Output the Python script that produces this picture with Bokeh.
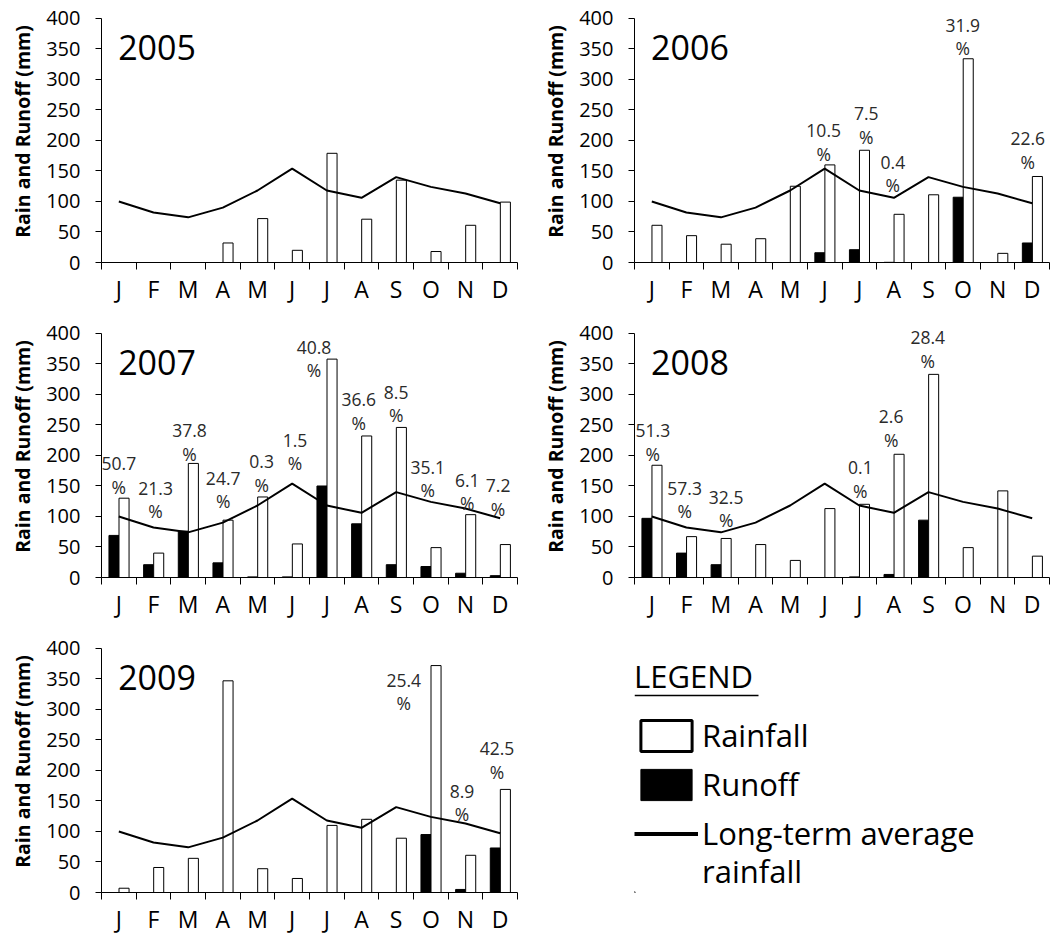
import numpy as np
from bokeh.plotting import figure
from bokeh.layouts import column, row
from bokeh.models import (Range1d, FixedTicker, Label, Legend, LegendItem,
                          ColumnDataSource, BoxAnnotation)
from bokeh.core.properties import value
from bokeh.embed import file_html
from bokeh.resources import INLINE

# ---------------- data ----------------
MONTHS = ["J", "F", "M", "A", "M", "J", "J", "A", "S", "O", "N", "D"]
LONG_TERM = [100, 82, 74, 90, 118, 154, 118, 106, 140, 124, 113, 97]

RAIN_2005 = [0, 0, 0, 32, 72, 20, 179, 71, 135, 18, 61, 99]
RUNOFF_2005 = [0, 0, 0, 0, 0, 0, 0, 0, 0, 0, 0, 0]

RAIN_2006 = [61, 44, 30, 39, 125, 160, 184, 79, 111, 334, 15, 141]
RUNOFF_2006 = [0, 0, 0, 0, 0, 16, 21, 0.3, 0, 107, 0, 32]

RAIN_2007 = [130, 40, 187, 94, 132, 55, 358, 232, 246, 49, 103, 54]
RUNOFF_2007 = [69, 21, 76, 24, 1, 1, 150, 88, 21, 18, 7, 3]

RAIN_2008 = [184, 67, 64, 54, 28, 113, 120, 202, 333, 49, 142, 35]
RUNOFF_2008 = [97, 40, 21, 0, 0, 0, 1, 5, 94, 0, 0, 0]

RAIN_2009 = [7, 41, 56, 347, 39, 23, 110, 120, 89, 372, 61, 169]
RUNOFF_2009 = [0, 0, 0, 0, 0, 0, 0, 0, 0, 95, 5, 73]

# runoff coefficient labels (text) and where they were written (month axis, mm)
PCT_2005 = []
PCT_2005_AT = []
PCT_2006 = ["10.5", "7.5", "0.4", "31.9", "22.6"]
PCT_2006_AT = [(4.97, 178), (6.20, 206), (6.97, 127), (8.99, 351), (10.87, 165)]
PCT_2007 = ["50.7", "21.3", "37.8", "24.7", "0.3", "1.5", "40.8", "36.6", "8.5",
            "35.1", "6.1", "7.2"]
PCT_2007_AT = [(0.0, 149), (1.06, 109), (2.04, 203), (3.01, 125), (4.12, 152),
               (5.08, 187), (5.63, 340), (6.92, 254), (8.0, 266), (8.91, 143),
               (10.05, 122), (10.94, 113)]
PCT_2008 = ["51.3", "57.3", "32.5", "0.1", "2.6", "28.4"]
PCT_2008_AT = [(0.03, 203), (0.95, 109), (2.15, 94), (6.03, 142), (6.92, 226),
               (7.98, 355)]
PCT_2009 = ["25.4", "8.9", "42.5"]
PCT_2009_AT = [(8.22, 310), (9.9, 128), (10.91, 198)]

FONT = "Open Sans"
Y_MAX = 400          # axis extent
Y_VIEW = 429.5       # visible range (room for labels above 400)
FRAME_H = 262
BOTTOM = 45


def make_panel(year, rain, runoff, pct, pct_at, frame_w, left, right, top):
    p = figure(frame_width=frame_w, frame_height=FRAME_H, x_range=Range1d(-0.5, 11.5),
               y_range=Range1d(0, Y_VIEW), output_backend="svg", toolbar_location=None,
               min_border_left=left, min_border_right=right, min_border_top=top,
               min_border_bottom=BOTTOM, outline_line_color=None,
               background_fill_color="white", border_fill_color="white")
    p.xgrid.visible = False
    p.ygrid.visible = False
    idx = np.arange(len(MONTHS))
    p.vbar(x=idx - 0.14, top=runoff, width=0.29, fill_color="black",
           line_color="black", line_width=1)
    p.vbar(x=idx + 0.15, top=rain, width=0.29, fill_color="white",
           line_color="black", line_width=1)
    p.line(idx, LONG_TERM, line_width=2, line_color="black")

    if pct:
        src = ColumnDataSource(dict(x=[a[0] for a in pct_at], y=[a[1] for a in pct_at],
                                    num=pct, sign=["%"] * len(pct)))
        p.text(x="x", y="y", text="num", source=src, text_font=value(FONT),
               text_font_size=value("17.5px"), text_color="#2a2a2a",
               text_align="center", text_baseline="middle", y_offset=-23)
        p.text(x="x", y="y", text="sign", source=src, text_font=value(FONT),
               text_font_size=value("17.5px"), text_color="#2a2a2a",
               text_align="center", text_baseline="middle")

    p.add_layout(Label(x=-0.02, y=352, text=year, text_font=FONT,
                       text_font_size="34px", text_color="black",
                       text_align="left", text_baseline="middle"))

    xa = p.xaxis[0]
    xa.ticker = FixedTicker(ticks=list(range(12)),
                            minor_ticks=[k - 0.5 for k in range(13)])
    xa.major_label_overrides = {i: m for i, m in enumerate(MONTHS)}
    xa.major_tick_out = 0
    xa.major_tick_in = 0
    xa.minor_tick_out = 7
    xa.minor_tick_in = 0
    xa.major_label_text_font = FONT
    xa.major_label_text_font_size = "23px"
    xa.major_label_text_color = "black"
    xa.major_label_standoff = 3
    xa.axis_line_color = "black"
    xa.minor_tick_line_color = "black"

    ya = p.yaxis[0]
    ya.ticker = FixedTicker(ticks=list(range(0, Y_MAX + 1, 50)))
    ya.bounds = (0, Y_MAX)
    ya.major_tick_out = 6
    ya.major_tick_in = 0
    ya.minor_tick_out = 0
    ya.minor_tick_in = 0
    ya.major_label_text_font = FONT
    ya.major_label_text_font_size = "20px"
    ya.major_label_text_color = "black"
    ya.major_label_standoff = 15
    ya.axis_label = "Rain and Runoff (mm)"
    ya.axis_label_text_font = FONT
    ya.axis_label_text_font_size = "19.5px"
    ya.axis_label_text_font_style = "bold"
    ya.axis_label_text_color = "black"
    ya.axis_label_standoff = 7
    ya.axis_line_color = "black"
    return p


p1 = make_panel("2005", RAIN_2005, RUNOFF_2005, PCT_2005, PCT_2005_AT, 416, 101, 10, 0)
p2 = make_panel("2006", RAIN_2006, RUNOFF_2006, PCT_2006, PCT_2006_AT, 415, 107, 8, 0)
p3 = make_panel("2007", RAIN_2007, RUNOFF_2007, PCT_2007, PCT_2007_AT, 416, 101, 10, 8)
p4 = make_panel("2008", RAIN_2008, RUNOFF_2008, PCT_2008, PCT_2008_AT, 415, 107, 8, 8)
p5 = make_panel("2009", RAIN_2009, RUNOFF_2009, PCT_2009, PCT_2009_AT, 416, 101, 10, 8)

# legend panel: same frame as its neighbour, data units = pixels
p6 = figure(frame_width=415, frame_height=FRAME_H, x_range=Range1d(0, 415),
            y_range=Range1d(0, FRAME_H),
            min_border_left=107, min_border_right=8, min_border_top=8,
            min_border_bottom=BOTTOM, outline_line_color=None, toolbar_location=None,
            output_backend="svg", x_axis_location=None, y_axis_location=None,
            background_fill_color="white", border_fill_color="white")
p6.xgrid.visible = False
p6.ygrid.visible = False
# underline of the legend heading (drawn first, beneath the text)
p6.add_layout(BoxAnnotation(left=0, right=124, bottom=196.2, top=197.8, level="underlay",
                            fill_color="black", fill_alpha=1, line_color=None))
OFF = -1e4  # legend sample glyphs kept outside the visible area
r_rain = p6.vbar(x=[OFF], bottom=[OFF], top=[OFF + 1], width=1, fill_color="white",
                 line_color="black", line_width=3)
r_run = p6.vbar(x=[OFF], bottom=[OFF], top=[OFF + 1], width=1, fill_color="black",
                line_color="black", line_width=1)
r_line = p6.line(x=[OFF, OFF + 1], y=[OFF, OFF], line_width=4, line_color="black")
r_none = p6.line(x=[OFF, OFF + 1], y=[OFF, OFF], line_color=None, line_alpha=0)

style = dict(label_text_font=FONT, label_text_font_size="31px", label_text_color="black",
             padding=0, margin=0, border_line_color=None, background_fill_alpha=0,
             label_standoff=4, glyph_width=64, glyph_height=39, spacing=7)
legA = Legend(items=[LegendItem(label=value("Rainfall"), renderers=[r_rain]),
                     LegendItem(label=value("Runoff"), renderers=[r_run]),
                     LegendItem(label=value("Long-term average"), renderers=[r_line])],
              title="LEGEND", title_text_font=FONT, title_text_font_size="31px",
              title_text_font_style="normal", title_text_color="black",
              title_standoff=17, location=(0, 38), **style)
legB = Legend(items=[LegendItem(label=value("rainfall"), renderers=[r_none])],
              location=(0, 0), **style)
p6.add_layout(legA)
p6.add_layout(legB)

layout = column(row(p1, p2), row(p3, p4), row(p5, p6))
open("out.html", "w").write(file_html(layout, INLINE))
